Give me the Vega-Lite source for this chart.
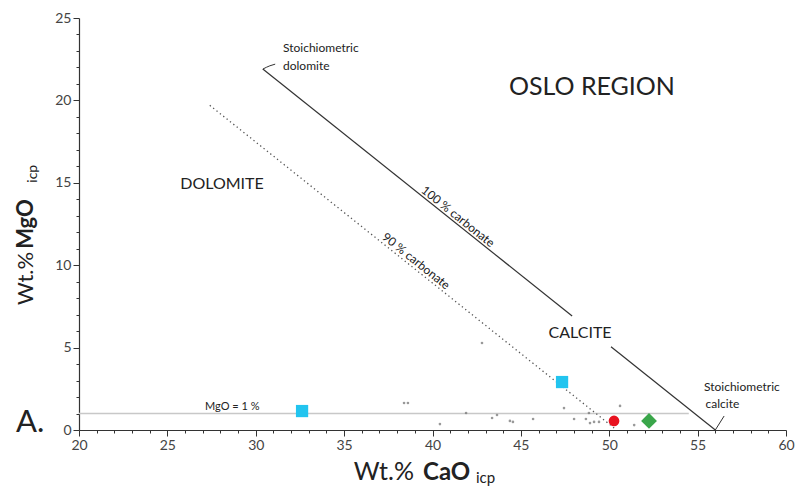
{
  "$schema": "https://vega.github.io/schema/vega-lite/v6.json",
  "width": 707,
  "height": 412,
  "autosize": {"type": "none"},
  "padding": {"left": 79, "top": 18, "right": 11, "bottom": 62},
  "background": "white",
  "config": {
    "view": {"stroke": null},
    "axis": {
      "grid": false,
      "title": null,
      "domainColor": "#333",
      "domainWidth": 1.2,
      "tickColor": "#333",
      "labelFont": "Lato",
      "labelFontSize": 14,
      "labelColor": "#444",
      "labelOverlap": false
    },
    "text": {"font": "Lato", "color": "#222"}
  },
  "encoding": {
    "x": {
      "field": "CaO", "type": "quantitative",
      "scale": {"domain": [20, 60], "nice": false, "zero": false},
      "axis": {
        "values": [20,21,22,23,24,25,26,27,28,29,30,31,32,33,34,35,36,37,38,39,40,41,42,43,44,45,46,47,48,49,50,51,52,53,54,55,56,57,58,59,60],
        "labelExpr": "datum.value % 5 === 0 ? datum.label : ''",
        "labelOverlap": false,
        "labelFlush": false,
        "labelBound": false,
        "tickSize": {"condition": {"test": "datum.value % 5 === 0", "value": 6}, "value": 3},
        "labelPadding": 2
      }
    },
    "y": {
      "field": "MgO", "type": "quantitative",
      "scale": {"domain": [0, 25], "nice": false},
      "axis": {
        "values": [0,1,2,3,4,5,6,7,8,9,10,11,12,13,14,15,16,17,18,19,20,21,22,23,24,25],
        "labelExpr": "datum.value % 5 === 0 ? datum.label : ''",
        "labelOverlap": false,
        "labelFlush": false,
        "labelBound": false,
        "tickSize": {"condition": {"test": "datum.value % 5 === 0", "value": 6}, "value": 3},
        "labelPadding": 2
      }
    }
  },
  "layer": [
    {
      "data": {"values": [{"CaO": 20, "MgO": 1}, {"CaO": 54.5, "MgO": 1}]},
      "mark": {"type": "line", "color": "#c8c8c8", "strokeWidth": 1.5}
    },
    {
      "data": {"values": [
        {"seg": "a", "CaO": 30.4, "MgO": 21.9},
        {"seg": "a", "CaO": 47.9, "MgO": 6.92},
        {"seg": "b", "CaO": 50.1, "MgO": 5.05},
        {"seg": "b", "CaO": 56.0, "MgO": 0}
      ]},
      "mark": {"type": "line", "color": "#333", "strokeWidth": 1.2},
      "encoding": {"detail": {"field": "seg"}}
    },
    {
      "data": {"values": [
        {"seg": "d", "CaO": 30.4, "MgO": 21.9},
        {"seg": "d", "CaO": 30.8, "MgO": 22.1},
        {"seg": "d", "CaO": 31.1, "MgO": 22.2},
        {"seg": "c", "CaO": 56.0, "MgO": 0},
        {"seg": "c", "CaO": 56.5, "MgO": 0.85}
      ]},
      "mark": {"type": "line", "color": "#333", "strokeWidth": 1, "interpolate": "monotone"},
      "encoding": {"detail": {"field": "seg"}}
    },
    {
      "data": {"values": [{"CaO": 27.4, "MgO": 19.7}, {"CaO": 50.3, "MgO": 0.1}]},
      "mark": {"type": "line", "color": "#555", "strokeWidth": 1.3, "strokeDash": [1.3, 3]}
    },
    {
      "data": {"values": [
        {"CaO": 38.39, "MgO": 1.64}, {"CaO": 38.61, "MgO": 1.64}, {"CaO": 40.42, "MgO": 0.36},
        {"CaO": 41.9, "MgO": 1.03}, {"CaO": 43.37, "MgO": 0.73}, {"CaO": 43.65, "MgO": 0.91},
        {"CaO": 44.38, "MgO": 0.55}, {"CaO": 44.55, "MgO": 0.49}, {"CaO": 45.69, "MgO": 0.67},
        {"CaO": 47.44, "MgO": 1.33}, {"CaO": 48.01, "MgO": 0.67}, {"CaO": 48.68, "MgO": 0.67},
        {"CaO": 48.85, "MgO": 1.03}, {"CaO": 48.91, "MgO": 0.42}, {"CaO": 49.14, "MgO": 0.49},
        {"CaO": 49.42, "MgO": 0.49}, {"CaO": 50.61, "MgO": 1.46}, {"CaO": 51.41, "MgO": 0.3},
        {"CaO": 42.8, "MgO": 5.28}
      ]},
      "mark": {"type": "circle", "color": "#777", "size": 7, "opacity": 0.75}
    },
    {
      "data": {"values": [{"CaO": 32.62, "MgO": 1.15}, {"CaO": 47.33, "MgO": 2.91}]},
      "mark": {"type": "point", "filled": true, "opacity": 1, "shape": "square", "size": 150, "color": "#22c4ef"}
    },
    {
      "data": {"values": [{"CaO": 50.27, "MgO": 0.55}]},
      "mark": {"type": "point", "filled": true, "opacity": 1, "shape": "circle", "size": 115, "color": "#e8121f"}
    },
    {
      "data": {"values": [{"CaO": 52.25, "MgO": 0.55}]},
      "mark": {"type": "point", "filled": true, "opacity": 1, "shape": "diamond", "size": 250, "color": "#3aa64a"}
    },
    {
      "data": {"values": [{"label": "OSLO REGION", "CaO": 49.02, "MgO": 20.3}]},
      "mark": {"type": "text", "fontSize": 25, "align": "center", "baseline": "alphabetic"},
      "encoding": {"text": {"field": "label"}}
    },
    {
      "data": {"values": [{"label": "DOLOMITE", "CaO": 28.09, "MgO": 14.62}, {"label": "CALCITE", "CaO": 48.35, "MgO": 5.58}]},
      "mark": {"type": "text", "fontSize": 16, "align": "center", "baseline": "alphabetic"},
      "encoding": {"text": {"field": "label"}}
    },
    {
      "data": {"values": [
        {"label": "Stoichiometric", "CaO": 31.54, "MgO": 22.94},
        {"label": "dolomite", "CaO": 31.54, "MgO": 21.84},
        {"label": "Stoichiometric", "CaO": 55.36, "MgO": 2.37},
        {"label": "calcite", "CaO": 55.45, "MgO": 1.33}
      ]},
      "mark": {"type": "text", "fontSize": 12, "align": "left", "baseline": "alphabetic"},
      "encoding": {"text": {"field": "label"}}
    },
    {
      "data": {"values": [
        {"label": "100 % carbonate", "CaO": 41.44, "MgO": 12.95},
        {"label": "90 % carbonate", "CaO": 39.07, "MgO": 10.25}
      ]},
      "mark": {"type": "text", "fontSize": 12, "align": "center", "baseline": "middle", "angle": 38.6},
      "encoding": {"text": {"field": "label"}}
    },
    {
      "data": {"values": [{"label": "MgO = 1 %", "CaO": 27.13, "MgO": 1.21}]},
      "mark": {"type": "text", "fontSize": 11, "align": "left", "baseline": "alphabetic"},
      "encoding": {"text": {"field": "label"}}
    },
    {
      "data": {"values": [{"label": "A.", "CaO": 16.44, "MgO": -0.12}]},
      "mark": {"type": "text", "fontSize": 31, "align": "left", "baseline": "alphabetic"},
      "encoding": {"text": {"field": "label"}}
    },
    {
      "data": {"values": [{"label": "Wt.%", "CaO": 37.25, "MgO": -3.03}]},
      "mark": {"type": "text", "fontSize": 25, "align": "center", "baseline": "alphabetic"},
      "encoding": {"text": {"field": "label"}}
    },
    {
      "data": {"values": [{"label": "CaO", "CaO": 40.8, "MgO": -3.03}]},
      "mark": {"type": "text", "fontSize": 24, "fontWeight": "bold", "align": "center", "baseline": "alphabetic"},
      "encoding": {"text": {"field": "label"}}
    },
    {
      "data": {"values": [{"label": "icp", "CaO": 43.0, "MgO": -3.2}]},
      "mark": {"type": "text", "fontSize": 15, "align": "center", "baseline": "alphabetic"},
      "encoding": {"text": {"field": "label"}}
    },
    {
      "data": {"values": [{"label": "Wt.%", "CaO": 17.4, "MgO": 9.2}]},
      "mark": {"type": "text", "fontSize": 22, "angle": 270, "align": "center", "baseline": "alphabetic"},
      "encoding": {"text": {"field": "label"}}
    },
    {
      "data": {"values": [{"label": "MgO", "CaO": 17.4, "MgO": 12.5}]},
      "mark": {"type": "text", "fontSize": 22, "fontWeight": "bold", "angle": 270, "align": "center", "baseline": "alphabetic"},
      "encoding": {"text": {"field": "label"}}
    },
    {
      "data": {"values": [{"label": "icp", "CaO": 17.62, "MgO": 15.55}]},
      "mark": {"type": "text", "fontSize": 14, "angle": 270, "align": "center", "baseline": "alphabetic"},
      "encoding": {"text": {"field": "label"}}
    }
  ]
}
